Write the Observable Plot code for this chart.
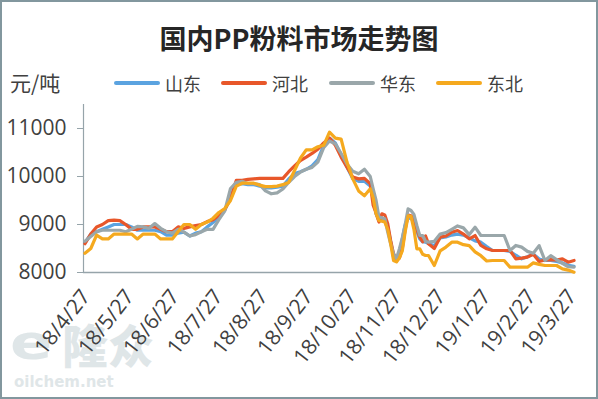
<!DOCTYPE html>
<html><head><meta charset="utf-8">
<script src="https://cdn.jsdelivr.net/npm/d3@7"></script>
<script src="https://cdn.jsdelivr.net/npm/@observablehq/plot@0.6"></script>
<style>
body{margin:0;background:#fff;}
#frame{position:relative;width:598px;height:399px;overflow:hidden;font-family:"Noto Sans CJK SC",sans-serif;color:#404040;}
#chart{position:absolute;left:0;top:0;}
#border{position:absolute;left:0;top:0;width:598px;height:399px;box-sizing:border-box;border:2px solid #82979e;pointer-events:none;}
.t{position:absolute;white-space:nowrap;line-height:1;}
.sw{position:absolute;height:4px;width:46px;border-radius:2px;}
</style></head>
<body>
<div id="frame">
  <div class="t" style="left:10px;top:318px;font-size:48px;font-weight:900;color:#dfe6e8;font-family:'DejaVu Sans';transform:scaleX(1.3);transform-origin:left top;">e</div>
  <div class="t" style="left:62px;top:320px;font-size:46px;font-weight:900;color:#dfe6e8;">隆众</div>
  <div class="t" style="left:14px;top:375px;font-size:15px;font-weight:700;color:#dfe6e8;font-family:'DejaVu Sans';">oilchem.net</div>
  <div id="chart"></div>
  <div class="t" id="title" style="left:0;width:598px;text-align:center;top:24px;font-size:27px;font-weight:700;color:#262626;">国内PP粉料市场走势图</div>
  <div class="t" style="left:10px;top:72px;font-size:21px;">元/吨</div>
  <div id="legend"></div>
  <div id="border"></div>
</div>
<script>
const dates = ["2018-04-27","2018-05-01","2018-05-05","2018-05-09","2018-05-13","2018-05-17","2018-05-21","2018-05-25","2018-05-29","2018-06-02","2018-06-06","2018-06-10","2018-06-14","2018-06-18","2018-06-22","2018-06-26","2018-06-30","2018-07-04",
"2018-07-08","2018-07-12","2018-07-16","2018-07-20","2018-07-24","2018-07-28","2018-08-01","2018-08-05","2018-08-09","2018-08-13","2018-08-17","2018-08-21","2018-08-25","2018-08-29","2018-09-02","2018-09-06","2018-09-10",
"2018-09-14","2018-09-18","2018-09-22","2018-09-26","2018-09-30","2018-10-04","2018-10-08","2018-10-12","2018-10-16","2018-10-20","2018-10-24","2018-10-28","2018-11-01","2018-11-05",
"2018-11-09","2018-11-11","2018-11-13","2018-11-15","2018-11-17","2018-11-19","2018-11-21","2018-11-23","2018-11-25","2018-11-27","2018-11-29","2018-12-01","2018-12-03","2018-12-05","2018-12-07","2018-12-09","2018-12-11","2018-12-13","2018-12-15","2018-12-17","2018-12-19",
"2018-12-23","2018-12-27","2018-12-31","2019-01-04","2019-01-08","2019-01-12",
"2019-01-16","2019-01-20","2019-01-24","2019-01-28","2019-02-01","2019-02-05","2019-02-09","2019-02-13","2019-02-17","2019-02-21","2019-02-25","2019-03-01","2019-03-05","2019-03-09","2019-03-13","2019-03-17","2019-03-21","2019-03-25","2019-03-29"];

const shandong = [8620,8800,8850,8900,8950,9000,9000,9000,8950,8880,8880,8880,8880,8850,8780,8780,8820,8840,
8760,8820,8850,8950,9040,9150,9300,9550,9840,9850,9830,9830,9800,9760,9760,9780,9800,
9950,10060,10100,10150,10220,10350,10650,10800,10700,10450,10194,9951,9900,9900,
9800,9550,9222,9083,9100,9100,8950,8650,8320,8280,8400,8700,9000,9150,9120,9080,8850,8700,8640,8632,8600,
8560,8720,8740,8780,8800,8780,
8720,8660,8632,8540,8458,8458,8458,8440,8360,8285,8330,8389,8280,8250,8250,8230,8200,8150,8130];

const hebei = [8600,8800,8950,9000,9080,9090,9080,9000,8900,8900,8950,8950,8950,8900,8850,8850,8950,8920,
8950,8980,9000,9060,9100,9190,9300,9550,9920,9920,9940,9950,9960,9960,9960,9960,9960,
10100,10220,10333,10403,10480,10570,10700,10800,10650,10403,10194,9990,9951,9960,
9850,9400,9240,9050,9222,9200,9015,8667,8389,8285,8300,8500,8900,9200,9180,9130,8900,8740,8640,8760,8597,
8500,8736,8760,8840,8875,8800,
8701,8770,8563,8493,8458,8458,8458,8458,8285,8300,8319,8380,8230,8260,8270,8260,8285,8215,8250];

const huadong = [8650,8750,8850,8880,8880,8880,8880,8850,8900,8960,8950,8920,9020,8920,8850,8820,8900,8840,
8760,8790,8850,8900,8900,9100,9280,9750,9880,9900,9850,9850,9830,9700,9640,9660,9740,
9880,10000,10090,10150,10190,10300,10600,10740,10680,10480,10260,10110,10056,10150,
10000,9743,9500,9153,9140,9120,8840,8597,8389,8290,8493,8720,9000,9326,9292,9210,8979,8771,8771,8645,8632,
8650,8800,8830,8900,8970,8930,
8790,8944,8771,8771,8771,8771,8771,8458,8563,8528,8440,8400,8560,8250,8350,8270,8190,8120,8111];

const dongbei = [8400,8500,8780,8700,8700,8800,8800,8800,8800,8700,8800,8800,8800,8700,8700,8700,8850,9000,
9000,8900,9000,9050,9130,9250,9330,9500,9800,9860,9860,9860,9820,9790,9790,9800,9830,
9880,10125,10380,10556,10556,10620,10650,10923,10800,10780,10300,9950,9700,9600,
9743,9550,9222,9083,9070,9050,8900,8600,8250,8220,8300,8450,8850,9180,9170,8900,8493,8493,8380,8354,8354,
8146,8450,8530,8632,8632,8580,
8560,8430,8350,8240,8250,8250,8250,8111,8111,8111,8111,8200,8170,8146,8146,8146,8076,8050,8007];

const seriesNames = ["山东","河北","华东","东北"];
const seriesColors = ["#5ba3e0","#e8572a","#9aa7aa","#f5a91e"];
const seriesValues = [shandong, hebei, huadong, dongbei];

const yTicks = [8000,9000,10000,11000];
const xTickDates = ["2018-04-27","2018-05-27","2018-06-27","2018-07-27","2018-08-27","2018-09-27","2018-10-27","2018-11-27","2018-12-27","2019-01-27","2019-02-27","2019-03-27"];
const xTickLabels = ["18/4/27","18/5/27","18/6/27","18/7/27","18/8/27","18/9/27","18/10/27","18/11/27","18/12/27","19/1/27","19/2/27","19/3/27"];

const parse = d3.utcParse("%Y-%m-%d");
const labelOf = new Map(xTickDates.map((d,i)=>[+parse(d), xTickLabels[i]]));
const rows = seriesNames.flatMap((name, k) => dates.map((d,i)=>({date: parse(d), value: seriesValues[k][i], name})));
const x0 = parse("2018-04-26"), x1 = parse("2019-03-30");
const axisColor = "#96a4aa";
const numFont = "'Open Sans', sans-serif";

const chart = Plot.plot({
  width: 598, height: 399,
  marginTop: 104, marginBottom: 127, marginLeft: 83, marginRight: 23,
  x: {type: "utc", domain: [x0, x1]},
  y: {domain: [8000, 11500]},
  color: {domain: seriesNames, range: seriesColors},
  style: {fontFamily: numFont, background: "transparent", color: "#404040", overflow: "visible"},
  marks: [
    Plot.axisY({ticks: yTicks, tickSize: 6, tickPadding: 11, fontSize: 21, stroke: axisColor, fill: "#404040", tickFormat: d => String(d), label: null}),
    Plot.axisX({ticks: xTickDates.map(parse), tickFormat: d => labelOf.get(+d), tickRotate: -52, tickSize: 0, tickPadding: 10, dx: 1, dy: 10, fontSize: 21, fill: "#404040", label: null}),
    Plot.ruleX([x0], {y1: 8000, y2: 11500, stroke: axisColor, strokeWidth: 1.2}),
    Plot.ruleY([8000], {stroke: axisColor, strokeWidth: 1.5}),
    Plot.lineY(rows, {x: "date", y: "value", z: "name", stroke: "name", strokeWidth: 3.2, strokeLinejoin: "round", strokeLinecap: "round"})
  ]
});
document.getElementById("chart").appendChild(chart);

const legend = document.getElementById("legend");
const legendX = [114, 221, 329, 436];
seriesNames.forEach((name, k) => {
  const sw = document.createElement("div");
  sw.className = "sw";
  sw.style.left = legendX[k] + "px";
  sw.style.top = "81px";
  sw.style.background = seriesColors[k];
  legend.appendChild(sw);
  const t = document.createElement("div");
  t.className = "t";
  t.style.left = (legendX[k] + 51) + "px";
  t.style.top = "74px";
  t.style.fontSize = "18px";
  t.textContent = name;
  legend.appendChild(t);
});
</script>
</body></html>
